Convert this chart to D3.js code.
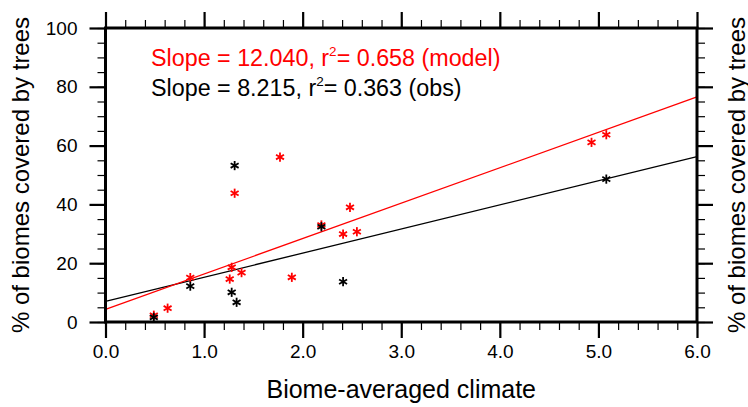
<!DOCTYPE html>
<html>
<head>
<meta charset="utf-8">
<script src="https://cdn.jsdelivr.net/npm/d3@7"></script>
<style>
  body { margin: 0; background: #fff; }
  text { font-family: "Liberation Sans", Arial, sans-serif; }
</style>
</head>
<body>
<svg id="chart" width="748" height="407"></svg>
<script>
// model points (red)
var modelX = [0.49, 0.63, 0.86, 1.26, 1.28, 1.31, 1.38, 1.77, 1.89, 2.19, 2.41, 2.48, 2.55, 4.93, 5.08];
var modelY = [2.3, 4.7, 15.1, 14.6, 18.6, 43.8, 16.8, 56.1, 15.2, 33.0, 29.9, 39.0, 30.7, 61.1, 63.7];
// obs points (black)
var obsX = [0.49, 0.86, 1.28, 1.31, 1.33, 2.19, 2.41, 5.08];
var obsY = [1.6, 12.2, 10.1, 53.2, 6.7, 32.4, 13.7, 48.6];
// fit lines: [slope, intercept]
var modelFit = [12.040, 4.3];
var obsFit = [8.215, 7.0];
var xTicks = [0, 1, 2, 3, 4, 5, 6];
var yTicks = [0, 20, 40, 60, 80, 100];

var svg = d3.select('#chart');
var pLeft = 105.5, pRight = 697, pTop = 28, pBottom = 322;

var x = d3.scaleLinear().domain([0, 6]).range([pLeft, pRight]);
var y = d3.scaleLinear().domain([0, 100]).range([pBottom, pTop]);

var plot = svg.append('g');

// fit lines
function drawFit(fit, color) {
    plot.append('line')
        .attr('x1', x(0)).attr('y1', y(fit[1]))
        .attr('x2', x(6)).attr('y2', y(fit[1] + fit[0] * 6))
        .attr('stroke', color).attr('stroke-width', 1.3);
}
drawFit(obsFit, 'black');
drawFit(modelFit, 'red');

// asterisk markers
function star(px, py, color) {
    var r = 4.6, g = plot.append('g').attr('transform', 'translate(' + px + ',' + py + ')');
    [90, 30, -30].forEach(function(a) {
        var dx = r * Math.cos(a * Math.PI / 180), dy = r * Math.sin(a * Math.PI / 180);
        g.append('line')
            .attr('x1', -dx).attr('y1', -dy).attr('x2', dx).attr('y2', dy)
            .attr('stroke', color).attr('stroke-width', 1.8);
    });
}
modelX.forEach(function(v, i) { star(x(v), y(modelY[i]), 'red'); });
obsX.forEach(function(v, i) { star(x(v), y(obsY[i]), 'black'); });

// axes
var xMinor = d3.range(0, 6.001, 0.2);
var yMinor = d3.range(0, 100.1, 5);

var bx = svg.append('g').attr('transform', 'translate(0,' + pBottom + ')')
    .call(d3.axisBottom(x).tickValues(xMinor).tickSize(8).tickFormat(''));
var bx2 = svg.append('g').attr('transform', 'translate(0,' + pBottom + ')')
    .call(d3.axisBottom(x).tickValues(xTicks).tickSize(16).tickPadding(7).tickFormat(d3.format('.1f')));
var tx = svg.append('g').attr('transform', 'translate(0,' + pTop + ')')
    .call(d3.axisTop(x).tickValues(xMinor).tickSize(8).tickFormat(''));
var tx2 = svg.append('g').attr('transform', 'translate(0,' + pTop + ')')
    .call(d3.axisTop(x).tickValues(xTicks).tickSize(16).tickFormat(''));
var ly = svg.append('g').attr('transform', 'translate(' + pLeft + ',0)')
    .call(d3.axisLeft(y).tickValues(yMinor).tickSize(8).tickFormat(''));
var ly2 = svg.append('g').attr('transform', 'translate(' + pLeft + ',0)')
    .call(d3.axisLeft(y).tickValues(yTicks).tickSize(16).tickPadding(12).tickFormat(d3.format('d')));
var ry = svg.append('g').attr('transform', 'translate(' + pRight + ',0)')
    .call(d3.axisRight(y).tickValues(yMinor).tickSize(8).tickFormat(''));
var ry2 = svg.append('g').attr('transform', 'translate(' + pRight + ',0)')
    .call(d3.axisRight(y).tickValues(yTicks).tickSize(16).tickFormat(''));

[bx, tx, ly, ry].forEach(function(a) {
    a.selectAll('.tick line').attr('stroke-width', 1.2);
    a.select('.domain').remove();
});
[bx2, tx2, ly2, ry2].forEach(function(a) {
    a.selectAll('.tick line').attr('stroke-width', 2.2);
    a.select('.domain').remove();
    a.selectAll('text').attr('font-size', 19).attr('fill', 'black')
        .style('font-family', '"Liberation Sans", Arial, sans-serif');
});

svg.append('rect')
    .attr('x', pLeft).attr('y', pTop)
    .attr('width', pRight - pLeft).attr('height', pBottom - pTop)
    .attr('fill', 'none').attr('stroke', 'black').attr('stroke-width', 3);

// titles
svg.append('text').attr('x', (pLeft + pRight) / 2).attr('y', 398)
    .attr('text-anchor', 'middle').attr('font-size', 25)
    .text('Biome-averaged climate');
svg.append('text').attr('transform', 'translate(29,' + (pTop + pBottom) / 2 + ') rotate(-90)')
    .attr('text-anchor', 'middle').attr('font-size', 24)
    .text('% of biomes covered by trees');
svg.append('text').attr('transform', 'translate(745,' + (pTop + pBottom) / 2 + ') rotate(-90)')
    .attr('text-anchor', 'middle').attr('font-size', 24)
    .text('% of biomes covered by trees');

// annotations
function annot(yPos, color, slope, r2, tag) {
    var t = svg.append('text').attr('x', 151).attr('y', yPos)
        .attr('font-size', 23.3).attr('fill', color);
    t.append('tspan').text('Slope = ' + slope + ', r');
    t.append('tspan').attr('font-size', 13.5).attr('dy', -10).text('2');
    t.append('tspan').attr('dy', 10).text('= ' + r2 + ' (' + tag + ')');
}
annot(66, 'red', d3.format('.3f')(modelFit[0]), '0.658', 'model');
annot(96, 'black', d3.format('.3f')(obsFit[0]), '0.363', 'obs');
</script>
</body>
</html>
